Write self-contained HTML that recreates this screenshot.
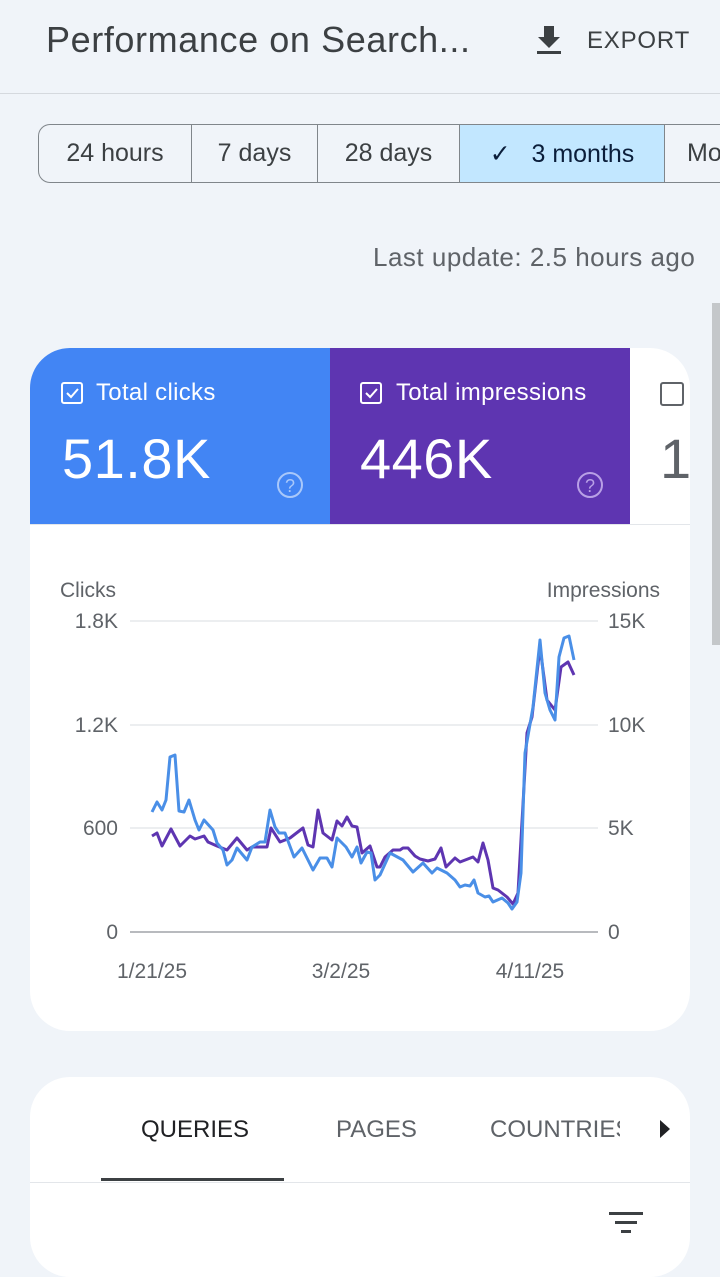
<!DOCTYPE html>
<html><head><meta charset="utf-8"><style>
*{margin:0;padding:0;box-sizing:border-box}
body{width:720px;height:1246px;background:#f0f4f9;font-family:"Liberation Sans",sans-serif;position:relative;overflow:hidden;color:#3c4043}
.a{position:absolute}
</style></head><body>
<div class="a" style="left:46px;top:19px;font-size:36px;color:#3c4043;letter-spacing:0.6px">Performance on Search...</div>
<svg class="a" style="left:534px;top:24px" width="30" height="32"><path d="M10 2h10v11h6l-11 11-11-11h6z" fill="#3c4043"/><rect x="3" y="27" width="24" height="3" fill="#3c4043"/></svg>
<div class="a" style="left:587px;top:27px;font-size:24px;color:#3c4043;letter-spacing:0.8px">EXPORT</div>
<div class="a" style="left:0;top:93px;width:720px;height:1px;background:#d5d9de"></div>

<div class="a" style="left:38px;top:124px;width:700px;height:59px;border:1px solid #80868b;border-right:none;border-radius:12px 0 0 12px;overflow:hidden;display:flex;font-size:25px;color:#3c4043">
<div style="width:153px;border-right:1px solid #80868b;display:flex;align-items:center;justify-content:center">24 hours</div>
<div style="width:126px;border-right:1px solid #80868b;display:flex;align-items:center;justify-content:center">7 days</div>
<div style="width:142px;border-right:1px solid #80868b;display:flex;align-items:center;justify-content:center">28 days</div>
<div style="width:205px;border-right:1px solid #80868b;background:#c2e7ff;display:flex;align-items:center;justify-content:center;color:#0b1e3a">✓&nbsp;&nbsp; 3 months</div>
<div style="padding-left:22px;display:flex;align-items:center">Mo</div>
</div>

<div class="a" style="left:373px;top:242px;font-size:26px;color:#5f6368;letter-spacing:0.5px">Last update: 2.5 hours ago</div>
<div class="a" style="left:712px;top:303px;width:8px;height:342px;background:#c4c7ca"></div>

<div class="a" style="left:30px;top:348px;width:660px;height:683px;background:#fff;border-radius:40px;overflow:hidden">
<div class="a" style="left:0;top:0;width:300px;height:176px;background:#4285f4"></div>
<div class="a" style="left:300px;top:0;width:300px;height:176px;background:#5e35b1"></div>
<div class="a" style="left:0;top:176px;width:660px;height:1px;background:#e3e6ea"></div>
</div>
<svg class="a" style="left:60px;top:381px" width="26" height="26"><rect x="2" y="2" width="20" height="20" rx="2" fill="none" stroke="#fff" stroke-width="2"/><path d="M7 12l4 4 7-8" fill="none" stroke="#fff" stroke-width="2"/></svg>
<div class="a" style="left:96px;top:379px;font-size:24px;color:#fff;letter-spacing:0.3px">Total clicks</div>
<div class="a" style="left:62px;top:426px;font-size:56px;color:#fff;letter-spacing:0.5px">51.8K</div>
<svg class="a" style="left:276px;top:471px" width="30" height="30"><circle cx="14" cy="14" r="12" fill="none" stroke="#a9c8fa" stroke-width="2"/><text x="14" y="21" text-anchor="middle" font-size="18" fill="#a9c8fa" font-family="Liberation Sans">?</text></svg>
<svg class="a" style="left:359px;top:381px" width="26" height="26"><rect x="2" y="2" width="20" height="20" rx="2" fill="none" stroke="#fff" stroke-width="2"/><path d="M7 12l4 4 7-8" fill="none" stroke="#fff" stroke-width="2"/></svg>
<div class="a" style="left:396px;top:379px;font-size:24px;color:#fff;letter-spacing:0.3px">Total impressions</div>
<div class="a" style="left:360px;top:426px;font-size:56px;color:#fff;letter-spacing:0.5px">446K</div>
<svg class="a" style="left:576px;top:471px" width="30" height="30"><circle cx="14" cy="14" r="12" fill="none" stroke="#b9a0e6" stroke-width="2"/><text x="14" y="21" text-anchor="middle" font-size="18" fill="#b9a0e6" font-family="Liberation Sans">?</text></svg>
<div class="a" style="left:660px;top:382px;width:24px;height:24px;border:2px solid #5f6368;border-radius:3px"></div>
<div class="a" style="left:660px;top:426px;font-size:56px;color:#5f6368">1</div>

<svg class="a" style="left:0;top:560px" width="720" height="440" font-family="Liberation Sans" font-size="21" fill="#5f6368">
<text x="60" y="37">Clicks</text><text x="660" y="37" text-anchor="end">Impressions</text>
<g stroke="#e6e8eb" stroke-width="1.5"><line x1="130" y1="61" x2="598" y2="61"/><line x1="130" y1="165" x2="598" y2="165"/><line x1="130" y1="268" x2="598" y2="268"/></g>
<line x1="130" y1="372" x2="598" y2="372" stroke="#a0a4a8" stroke-width="1.5"/>
<g text-anchor="end"><text x="118" y="68">1.8K</text><text x="118" y="172">1.2K</text><text x="118" y="275">600</text><text x="118" y="379">0</text></g>
<text x="608" y="68">15K</text><text x="608" y="172">10K</text><text x="608" y="275">5K</text><text x="608" y="379">0</text>
<g text-anchor="middle"><text x="152" y="418">1/21/25</text><text x="341" y="418">3/2/25</text><text x="530" y="418">4/11/25</text></g>
<g transform="translate(0,-560)" fill="none" stroke-width="3" stroke-linejoin="round">
<polyline stroke="#5e35b1" points="152,836 157,833 162,846 171,829 180,846 190,836 195,839 204,836 208,842 217,846 227,850 237,838 247,850 252,847 267,847 271,828 280,842 290,838 303,828 308,845 313,847 318,810 323,833 332,840 337,821 342,826 347,817 352,826 357,827 362,853 370,846 377,867 380,867 385,857 393,850 400,850 403,848 408,848 415,856 420,859 428,861 435,859 441,848 446,867 455,858 460,862 473,857 478,862 483,843 488,860 493,888 498,890 507,897 513,904 518,893 527,733 532,717 540,647 547,700 555,710 561,667 568,662 574,675"/>
<polyline stroke="#4a8fe7" points="152,812 157,802 162,810 166,800 170,757 175,755 179,811 184,812 189,800 195,820 199,830 204,820 213,830 217,843 223,850 227,865 232,860 237,848 247,860 252,847 260,842 265,842 270,810 275,827 279,833 285,833 294,857 302,848 313,870 320,858 327,858 332,867 337,838 346,847 352,857 357,847 361,863 367,852 371,853 375,880 380,875 390,853 403,860 413,872 423,863 432,873 437,868 447,873 455,880 460,887 465,885 470,886 474,880 478,893 485,897 489,896 493,902 502,898 508,903 512,909 517,902 521,873 525,753 533,707 540,640 545,693 550,710 555,720 559,657 564,638 569,636 574,660"/>
</g>
</svg>

<div class="a" style="left:30px;top:1077px;width:660px;height:200px;background:#fff;border-radius:40px"></div>
<div class="a" style="left:141px;top:1116px;font-size:24px;color:#202124">QUERIES</div>
<div class="a" style="left:336px;top:1116px;font-size:24px;color:#5f6368">PAGES</div>
<div class="a" style="left:490px;top:1116px;width:130px;overflow:hidden;white-space:nowrap;font-size:24px;color:#5f6368">COUNTRIES</div>
<svg class="a" style="left:658px;top:1119px" width="14" height="20"><path d="M2 1l10 9-10 9z" fill="#202124"/></svg>
<div class="a" style="left:101px;top:1178px;width:183px;height:3px;background:#3c4043"></div>
<div class="a" style="left:30px;top:1182px;width:660px;height:1px;background:#e3e6ea"></div>
<svg class="a" style="left:609px;top:1211px" width="34" height="24"><rect x="0" y="1" width="34" height="3" fill="#3c4043"/><rect x="6" y="10" width="22" height="3" fill="#3c4043"/><rect x="12" y="19" width="10" height="3" fill="#3c4043"/></svg>
</body></html>
